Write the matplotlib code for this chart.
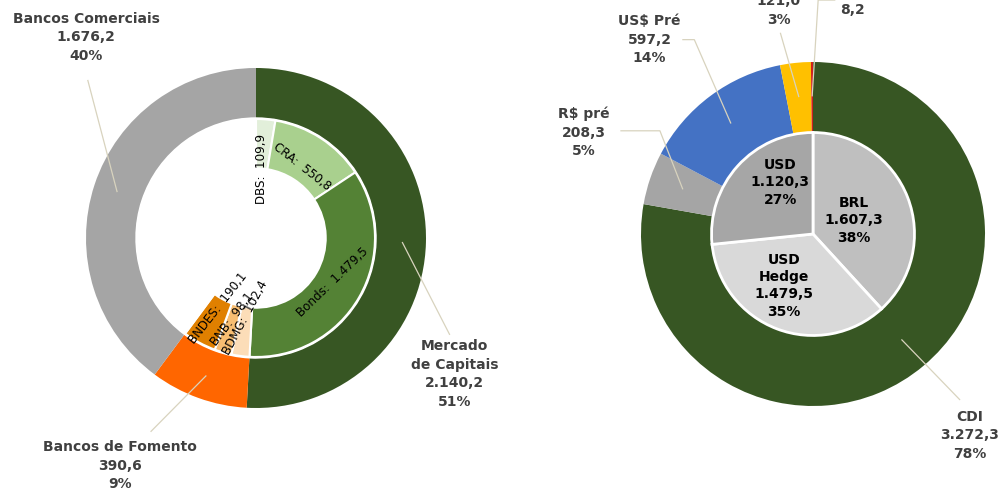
import numpy as np
import matplotlib.pyplot as plt

# left chart: funding sources (outer) and instruments (inner)
outer_names = ["Mercado\nde Capitais", "Bancos de Fomento", "Bancos Comerciais"]
outer_vals = [2140.2, 390.6, 1676.2]
outer_colors = ["#375623", "#FF6600", "#A5A5A5"]

inner_names = ["DBS", "CRA", "Bonds", "BDMG", "BNB", "BNDES"]
inner_vals = [109.9, 550.8, 1479.5, 102.4, 98.1, 190.1]
inner_colors = ["#E2EFDA", "#A9D08E", "#548235", "#FCDDB8", "#F8BE72", "#E08000"]

# right chart: indexers (outer) and currency (inner)
idx_names = ["CDI", "R$ pré", "US$ Pré", "", ""]
idx_vals = [3272.3, 208.3, 597.2, 121.0, 8.2]
idx_colors = ["#375623", "#A5A5A5", "#4472C4", "#FFC000", "#D0201A"]

cur_names = ["BRL", "USD\nHedge", "USD"]
cur_vals = [1607.3, 1479.5, 1120.3]
cur_colors = ["#BFBFBF", "#D9D9D9", "#A6A6A6"]

W, H = 1006, 492
LBL = "#404040"
LEAD = "#D8D3BE"


def br(v):
    s = f"{v:,.1f}"
    return s.replace(",", "_").replace(".", ",").replace("_", ".")


def mids(vals, total=None):
    total = total or sum(vals)
    cum = np.cumsum([0] + list(vals))[:-1]
    return [np.radians(90 - 360 * (c + v / 2) / total) for c, v in zip(cum, vals)]


def make_ax(cx, cy, unit, L=1.6):
    w, h = 2 * L * unit / W, 2 * L * unit / H
    ax = fig.add_axes([cx / W - w / 2, (H - cy) / H - h / 2, w, h])
    return ax


def finish(ax, L=1.6):
    ax.set_xlim(-L, L)
    ax.set_ylim(-L, L)
    ax.set_aspect("auto")
    ax.axis("off")


def leader(ax, ang, pts, r=0.86):
    xs = [r * np.cos(ang)] + [p[0] for p in pts]
    ys = [r * np.sin(ang)] + [p[1] for p in pts]
    ax.plot(xs, ys, color=LEAD, lw=0.9, solid_capstyle="butt")


fig = plt.figure(figsize=(W / 100, H / 100), dpi=100)
plt.rcParams["font.family"] = ["DejaVu Sans"]

# ---------------- left donut ----------------
ax1 = make_ax(256, 238, 170)
ax1.pie(outer_vals, radius=1, colors=outer_colors, startangle=90, counterclock=False,
        wedgeprops=dict(width=0.29, edgecolor="none"))
ax1.pie(inner_vals + [outer_vals[2]], radius=0.70,
        colors=inner_colors + ["none"], startangle=90, counterclock=False,
        wedgeprops=dict(width=0.29, edgecolor="white", linewidth=1.5))
finish(ax1)

tot = sum(outer_vals)
om = mids(outer_vals)
o_pos = [(1.17, -0.80), (-0.80, -1.34), (-1.0, 1.18)]
o_lead = [[(1.14, -0.57)], [(-0.62, -1.14)], [(-0.99, 0.93)]]
for name, v, a, p, lp in zip(outer_names, outer_vals, om, o_pos, o_lead):
    leader(ax1, a, lp)
    ax1.text(p[0], p[1], f"{name}\n{br(v)}\n{v / tot:.0%}", ha="center", va="center",
             fontsize=10, fontweight="bold", color=LBL, linespacing=1.4)

im = mids(inner_vals + [outer_vals[2]])[:-1]
i_rad = [0.41, 0.50, 0.52, 0.47, 0.50, 0.47]
i_rot = [90, -38, 44, 62, 53, 52]
for name, v, a, r, rot in zip(inner_names, inner_vals, im, i_rad, i_rot):
    ax1.text(r * np.cos(a), r * np.sin(a), f"{name}:  {br(v)}", ha="center", va="center",
             rotation=rot, rotation_mode="anchor", fontsize=8.6, color="black")

# ---------------- right donut ----------------
ax2 = make_ax(813, 234, 172)
ax2.pie(idx_vals, radius=1, colors=idx_colors, startangle=90, counterclock=False,
        wedgeprops=dict(width=0.41, edgecolor="none"))
ax2.pie(cur_vals, radius=0.59, colors=cur_colors, startangle=90, counterclock=False,
        wedgeprops=dict(edgecolor="white", linewidth=2))
finish(ax2)

tot2 = sum(idx_vals)
xm = mids(idx_vals)
x_pos = [(0.91, -1.17), (-1.33, 0.59), (-0.95, 1.13), (-0.20, 1.30), (0.23, 1.30)]
x_lead = [[(0.855, -0.965)],
          [(-0.89, 0.60), (-1.12, 0.60)],
          [(-0.69, 1.13), (-0.76, 1.13)],
          [(-0.19, 1.17)],
          [(0.03, 1.36), (0.13, 1.36)]]
for i, (name, v, a, p, lp) in enumerate(zip(idx_names, idx_vals, xm, x_pos, x_lead)):
    leader(ax2, a, lp, r=0.8)
    txt = f"{name}\n" if name else ""
    txt += br(v)
    if i < 4:
        txt += f"\n{v / tot2:.0%}"
    ax2.text(p[0], p[1], txt, ha="center", va="center",
             fontsize=10, fontweight="bold", color=LBL, linespacing=1.4)

cm = mids(cur_vals)
c_pos = [(0.24, 0.08), (-0.17, -0.30), (-0.19, 0.30)]
for name, v, a, p in zip(cur_names, cur_vals, cm, c_pos):
    ax2.text(p[0], p[1], f"{name}\n{br(v)}\n{v / sum(cur_vals):.0%}", ha="center",
             va="center", fontsize=10, fontweight="bold", color="black", linespacing=1.3)

fig.savefig("out.png", dpi=100)
